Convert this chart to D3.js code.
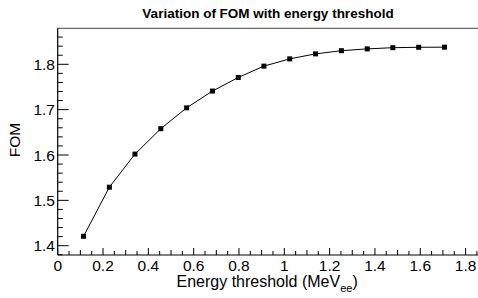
<!DOCTYPE html>
<html><head><meta charset="utf-8">
<script src="https://cdn.jsdelivr.net/npm/d3@7"></script>
<style>body{margin:0;background:#fff}svg{display:block}text{font-family:"Liberation Sans",Arial,sans-serif}</style>
</head><body><svg id="c" width="478" height="298"></svg>
<script>
const thresholds = [0.114,0.228,0.341,0.455,0.569,0.683,0.797,0.910,1.024,1.138,1.252,1.366,1.479,1.593,1.707];
const fom = [1.4207,1.529,1.602,1.658,1.704,1.741,1.771,1.796,1.812,1.823,1.830,1.834,1.8366,1.8375,1.8378];
const xTicks = [0,0.2,0.4,0.6,0.8,1,1.2,1.4,1.6,1.8];
const yTicks = [1.4,1.5,1.6,1.7,1.8];
const title = "Variation of FOM with energy threshold";

const svg = d3.select("#c");
const L=57.7,R=478,T=28.3,B=255;
const x = d3.scaleLinear().domain([0,1.855]).range([L,L+1.855*226.6]);
const y = d3.scaleLinear().domain([1.4,1.8]).range([245.7,64.3]);
const yMin = y.invert(B), yMax = y.invert(T);

// frame top
svg.append("line").attr("x1",L).attr("x2",R).attr("y1",T).attr("y2",T).attr("stroke","#444").attr("stroke-width",1);

// x axis
const gx = svg.append("g");
gx.append("line").attr("x1",L).attr("x2",R).attr("y1",B).attr("y2",B).attr("stroke","#000").attr("stroke-width",1.2);
const xmin = d3.range(0,1.86,0.05);
xmin.forEach(v=>{
  const major = Math.abs(v/0.2-Math.round(v/0.2))<1e-6;
  const mid = !major && Math.abs(v/0.1-Math.round(v/0.1))<1e-6;
  const len = major?7:(mid?5:4);
  gx.append("line").attr("x1",x(v)).attr("x2",x(v)).attr("y1",B).attr("y2",B-len).attr("stroke","#000").attr("stroke-width",1);
});
gx.selectAll("text.xt").data(xTicks).join("text").attr("class","xt")
  .attr("x",d=>x(d)).attr("y",271).attr("text-anchor","middle").attr("font-size",15.5)
  .text(d=>d3.format("~g")(d));

// y axis
const gy = svg.append("g");
gy.append("line").attr("x1",L).attr("x2",L).attr("y1",T).attr("y2",B).attr("stroke","#000").attr("stroke-width",1.2);
d3.range(1.38,1.88,0.02).forEach(v=>{
  if (v<yMin-1e-6||v>yMax) return;
  const major = Math.abs(v/0.1-Math.round(v/0.1))<1e-6;
  gy.append("line").attr("x1",L).attr("x2",L+(major?11:5)).attr("y1",y(v)).attr("y2",y(v)).attr("stroke","#000").attr("stroke-width",1);
});
gy.selectAll("text.yt").data(yTicks).join("text").attr("class","yt")
  .attr("x",55).attr("y",d=>y(d)+5.5).attr("text-anchor","end").attr("font-size",15.5)
  .text(d=>d3.format(".1f")(d));

// titles
svg.append("text").attr("x",268).attr("y",18).attr("text-anchor","middle").attr("font-size",13.5).attr("font-weight","bold").text(title);
svg.append("text").attr("transform","translate(20,140) rotate(-90)").attr("text-anchor","middle").attr("font-size",15.5).text("FOM");
const xt = svg.append("text").attr("x",176.5).attr("y",287).attr("font-size",16);
xt.append("tspan").text("Energy threshold (MeV");
xt.append("tspan").attr("dy",5).attr("font-size",11).text("ee");
xt.append("tspan").attr("dy",-5).text(")");

// data
const line = d3.line().x((d,i)=>x(thresholds[i])).y(d=>y(d));
svg.append("path").datum(fom).attr("d",line).attr("fill","none").attr("stroke","#000").attr("stroke-width",1);
svg.selectAll("rect.m").data(fom).join("rect").attr("class","m")
  .attr("x",(d,i)=>x(thresholds[i])-2.5).attr("y",d=>y(d)-2.5).attr("width",5).attr("height",5).attr("fill","#000");
</script></body></html>
